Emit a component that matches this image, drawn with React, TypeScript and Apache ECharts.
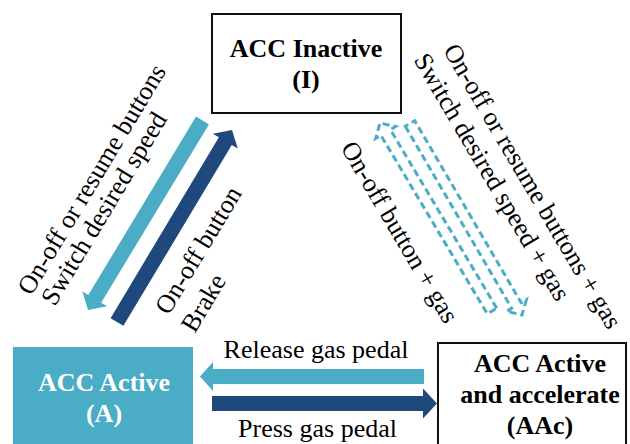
import React, { useEffect, useRef } from "react";
import * as echarts from "echarts";

// ---- Diagram content ----
const STATES = ["ACC Inactive\n(I)", "ACC Active\n(A)", "ACC Active\nand accelerate\n(AAc)"];
const LABEL_I_TO_A = ["On-off or resume buttons", "Switch desired speed"];
const LABEL_A_TO_I = ["On-off button", "Brake"];
const LABEL_I_TO_AAC = ["On-off or resume buttons + gas", "Switch desired speed + gas"];
const LABEL_AAC_TO_I = ["On-off button + gas"];
const LABEL_AAC_TO_A = ["Release gas pedal"];
const LABEL_A_TO_AAC = ["Press gas pedal"];

const LIGHT = "#4BACC6";
const DARK = "#1F497D";
const FONT = "'Liberation Serif', 'Times New Roman', serif";

type P = [number, number];

function arrowPts(tail: P, tip: P, sw: number, hw: number, hl: number): P[] {
  const dx = tip[0] - tail[0];
  const dy = tip[1] - tail[1];
  const L = Math.hypot(dx, dy);
  const ux = dx / L, uy = dy / L;
  const nx = -uy, ny = ux;
  const bx = tip[0] - ux * hl, by = tip[1] - uy * hl;
  return [
    [tail[0] + nx * sw / 2, tail[1] + ny * sw / 2],
    [bx + nx * sw / 2, by + ny * sw / 2],
    [bx + nx * hw / 2, by + ny * hw / 2],
    [tip[0], tip[1]],
    [bx - nx * hw / 2, by - ny * hw / 2],
    [bx - nx * sw / 2, by - ny * sw / 2],
    [tail[0] - nx * sw / 2, tail[1] - ny * sw / 2],
  ];
}

function txt(text: string, x: number, y: number, rotDeg: number, opts: any = {}) {
  return {
    type: "text",
    x,
    y,
    rotation: (rotDeg * Math.PI) / 180,
    style: {
      text,
      font: `${opts.bold ? "bold " : ""}26px ${FONT}`,
      fill: opts.fill || "#000",
      align: opts.align || "left",
      verticalAlign: "middle",
      textAlign: opts.align || "left",
      textVerticalAlign: "middle",
      lineHeight: opts.lineHeight || 31,
    },
  };
}

export default function App() {
  const ref = useRef<HTMLDivElement>(null);
  useEffect(() => {
    if (!ref.current) return;
    const chart = echarts.init(ref.current, undefined, { renderer: "svg" });
    const solid = (pts: P[], color: string) => ({
      type: "polygon",
      shape: { points: pts },
      style: { fill: color, stroke: "none" },
    });
    const dashed = (pts: P[]) => ({
      type: "polygon",
      shape: { points: pts },
      style: { fill: "none", stroke: LIGHT, lineWidth: 3, lineDash: [7, 4] },
    });
    const elements: any[] = [
      { type: "rect", shape: { x: 0, y: 0, width: 630, height: 444 }, style: { fill: "#fff" } },
      // state boxes
      { type: "rect", shape: { x: 212, y: 14, width: 189, height: 99 }, style: { fill: "#fff", stroke: "#111", lineWidth: 2 } },
      { type: "rect", shape: { x: 13, y: 347, width: 180, height: 110 }, style: { fill: LIGHT } },
      { type: "rect", shape: { x: 438, y: 343, width: 188, height: 120 }, style: { fill: "#fff", stroke: "#111", lineWidth: 2 } },
      txt(STATES[0], 306, 64, 0, { bold: true, align: "center" }),
      txt(STATES[1], 104, 398, 0, { bold: true, align: "center", fill: "#fff" }),
      txt(STATES[2], 540, 394, 0, { bold: true, align: "center" }),
      // diagonal solid arrows
      solid(arrowPts([202.5, 120.5], [88, 310], 15, 29, 13), LIGHT),
      solid(arrowPts([117, 322], [232, 130], 15, 29, 13), DARK),
      // horizontal arrows
      solid(arrowPts([424, 376.5], [200, 376.5], 15, 29, 13), LIGHT),
      solid(arrowPts([212, 403.5], [437, 403.5], 15, 30, 14), DARK),
      // dashed arrows
      dashed(arrowPts([492, 311], [380, 123], 11, 23, 11)),
      dashed(arrowPts([410, 123.5], [522, 315], 11, 23, 11)),
      // labels
      txt(LABEL_I_TO_A[0], 24, 292, 59),
      txt(LABEL_I_TO_A[1], 47.5, 302.5, 59),
      txt(LABEL_A_TO_I[0], 161.5, 311.5, 59),
      txt(LABEL_A_TO_I[1], 187.5, 329.5, 59),
      txt(LABEL_I_TO_AAC[0], 450, 46, -59.5),
      txt(LABEL_I_TO_AAC[1], 420.5, 55.5, -59.5),
      txt(LABEL_AAC_TO_I[0], 347.5, 143.5, -59.5),
      txt(LABEL_AAC_TO_A[0], 316, 349, 0, { align: "center" }),
      txt(LABEL_A_TO_AAC[0], 317.5, 428, 0, { align: "center" }),
    ];
    chart.setOption({ animation: false, graphic: { elements } });
    return () => chart.dispose();
  }, []);
  return (
    <div
      ref={ref}
      style={{ position: "fixed", left: 0, top: 0, width: 630, height: 444, background: "#fff" }}
    />
  );
}
